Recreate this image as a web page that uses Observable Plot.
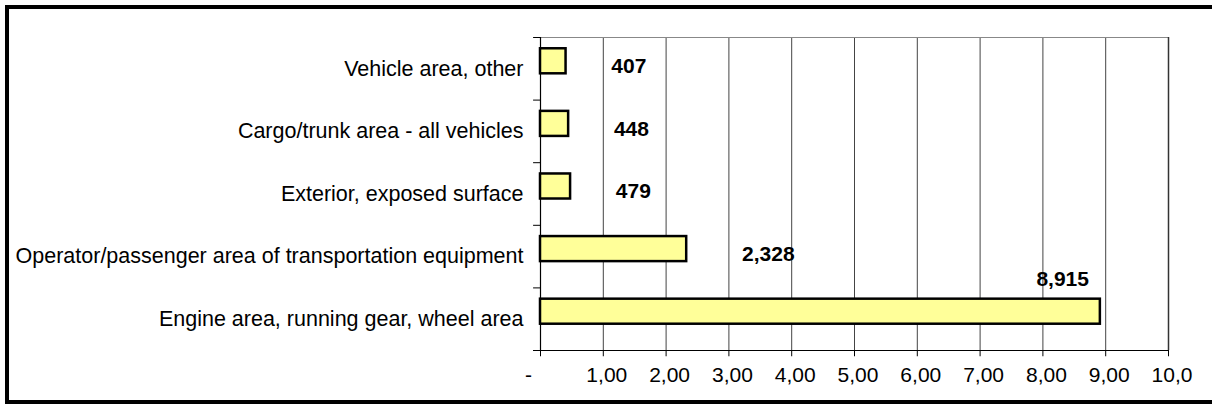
<!DOCTYPE html>
<html>
<head>
<meta charset="utf-8">
<script src="https://cdn.jsdelivr.net/npm/d3@7"></script>
<script src="https://cdn.jsdelivr.net/npm/@observablehq/plot@0.6"></script>
<style>
  html, body { margin: 0; padding: 0; background: #fff; overflow: hidden; }
  #wrap { position: relative; width: 1212px; height: 409px; overflow: hidden; background: #fff; }
  #frame { position: absolute; left: 5px; top: 5px; width: 1300px; height: 399px; box-sizing: border-box; border: 4px solid #000; pointer-events: none; z-index: 2; }
  #chart { position: absolute; left: 0; top: 0; z-index: 1; }
</style>
</head>
<body>
<div id="wrap"><div id="chart"></div><div id="frame"></div></div>
<script>
const categories = [
  "Vehicle area, other",
  "Cargo/trunk area - all vehicles",
  "Exterior, exposed surface",
  "Operator/passenger area of transportation equipment",
  "Engine area, running gear, wheel area"
];
const values = [407, 448, 479, 2328, 8915];
const valueLabels = ["407", "448", "479", "2,328", "8,915"];
const xTicks = [0, 1000, 2000, 3000, 4000, 5000, 6000, 7000, 8000, 9000, 10000];
const xTickLabels = ["-", "1,00", "2,00", "3,00", "4,00", "5,00", "6,00", "7,00", "8,00", "9,00", "10,0"];
const yBounds = [0, 1, 2, 3, 4, 5];

const rows = categories.map((c, i) => ({i, category: c, value: values[i], label: valueLabels[i]}));
const tickRows = xTicks.map((t, i) => ({t, label: xTickLabels[i]}));
const font = "'Liberation Sans', Arial, Helvetica, sans-serif";

const chart = Plot.plot({
  width: 1212,
  height: 409,
  marginLeft: 540,
  marginRight: 44,
  marginTop: 37,
  marginBottom: 59,
  style: {fontFamily: font, background: "transparent", color: "#000"},
  x: {domain: [0, 10000], axis: null},
  y: {domain: [0, 5], reverse: true, axis: null},
  marks: [
    // vertical gridlines
    Plot.ruleX(xTicks.slice(1, -1), {stroke: "#444", strokeWidth: 1}),
    // plot-area top (gray) and right edge
    Plot.ruleY([0], {stroke: "#888", strokeWidth: 1.2}),
    Plot.ruleX([10000], {stroke: "#333", strokeWidth: 1.5}),
    // y-axis ticks at category boundaries
    Plot.ruleY(yBounds, {x1: -110, x2: 0, stroke: "#000", strokeWidth: 1}),
    // x-axis ticks
    Plot.ruleX(xTicks, {y1: 5, y2: 5.1, stroke: "#000", strokeWidth: 1}),
    // axes lines
    Plot.ruleY([5], {x1: -110, x2: 10000, stroke: "#000", strokeWidth: 1.2}),
    Plot.ruleX([0], {y1: 0, y2: 5, stroke: "#000", strokeWidth: 1.2}),
    // bars
    Plot.rect(rows, {
      x1: 0, x2: "value",
      y1: d => d.i + 0.18, y2: d => d.i + 0.58,
      fill: "#FFFF99", stroke: "#000", strokeWidth: 2.5
    }),
    // category labels
    Plot.text(rows, {
      y: d => d.i + 0.5, text: "category",
      frameAnchor: "left", textAnchor: "end", dx: -17,
      fontSize: 21.5, fill: "#000"
    }),
    // value labels
    Plot.text(rows, {
      x: d => d.value > 5000 ? d.value - 600 : d.value > 1000 ? d.value + 1300 : d.value + 1000,
      y: d => d.value > 5000 ? d.i - 0.13 : d.i + 0.46,
      text: "label", fontWeight: "bold", fontSize: 21, fill: "#000"
    }),
    // x tick labels
    Plot.text(tickRows.slice(0, 1), {
      x: "t", text: "label", frameAnchor: "bottom",
      dy: 31, dx: -12, fontSize: 21, fill: "#000"
    }),
    Plot.text(tickRows.slice(1), {
      x: "t", text: "label", frameAnchor: "bottom",
      dy: 31, dx: 3.5, fontSize: 21, fill: "#000"
    })
  ]
});
document.getElementById("chart").appendChild(chart);
</script>
</body>
</html>
